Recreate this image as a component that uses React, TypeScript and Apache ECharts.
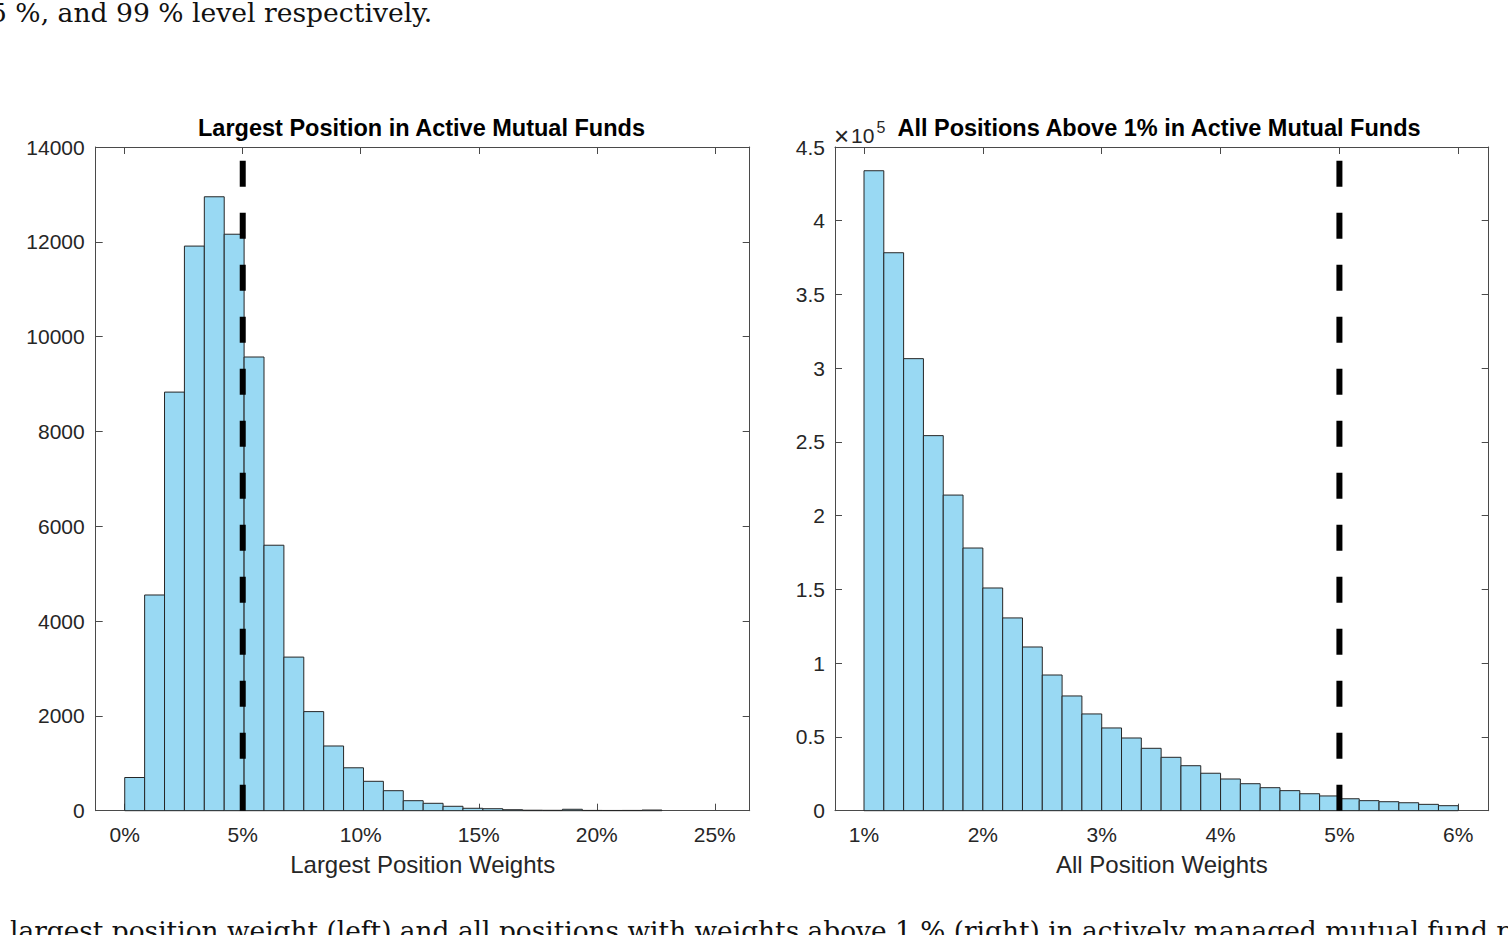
import React, { useEffect, useRef } from "react";
import * as echarts from "echarts";

// ---- data ----
const LEFT_TITLE = "Largest Position in Active Mutual Funds";
const RIGHT_TITLE = "All Positions Above 1% in Active Mutual Funds";
const LEFT_XNAME = "Largest Position Weights";
const RIGHT_XNAME = "All Position Weights";

const LEFT_BIN_START = 0; // %
const LEFT_BIN_WIDTH = 0.843; // %
const LEFT_COUNTS = [
  700, 4550, 8830, 11910, 12950, 12160, 9570, 5600, 3240, 2090, 1365, 905, 620,
  422, 211, 156, 93, 51, 42, 21, 10, 8, 30, 6, 5, 6, 14,
];
const LEFT_X_TICKS = [0, 5, 10, 15, 20, 25];
const LEFT_X_MIN = -1.23;
const LEFT_X_MAX = 26.48;
const LEFT_Y_MAX = 14000;
const LEFT_Y_STEP = 2000;
const LEFT_CUTOFF = 5;

const RIGHT_BIN_START = 1; // %
const RIGHT_BIN_WIDTH = 1 / 6; // %
const RIGHT_COUNTS = [
  433900, 378300, 306500, 254300, 214000, 178100, 151000, 130700, 111000, 92000,
  77800, 65600, 56100, 49300, 42300, 36200, 30500, 25400, 21500, 18300, 15600,
  13600, 11500, 10000, 8100, 6800, 6100, 5400, 4300, 3400,
];
const RIGHT_X_TICKS = [1, 2, 3, 4, 5, 6];
const RIGHT_X_MIN = 0.756;
const RIGHT_X_MAX = 6.256;
const RIGHT_Y_MAX = 450000;
const RIGHT_Y_STEP = 50000;
const RIGHT_CUTOFF = 5;

const TOP_TEXT = "5 %, and 99 % level respectively.";
const BOTTOM_TEXT =
  "largest position weight (left) and all positions with weights above 1 % (right) in actively managed mutual fund portfolios.";

// ---- styles ----
const SANS = "'Liberation Sans', Arial, Helvetica, sans-serif";
const SERIF = "'DejaVu Serif', 'Liberation Serif', serif";
const AXIS_COLOR = "#4a4a4a";
const LABEL_COLOR = "#262626";
const BAR_FILL = "#99d9f3";
const BAR_EDGE = "#262626";

function bins(start: number, width: number, counts: number[]) {
  return counts.map((c, i) => [start + i * width, start + (i + 1) * width, c]);
}

function renderBar(_params: any, api: any) {
  const x0 = api.value(0);
  const x1 = api.value(1);
  const y = api.value(2);
  const p0 = api.coord([x0, 0]);
  const p1 = api.coord([x1, y]);
  return {
    type: "rect",
    shape: { x: p0[0], y: p1[1], width: p1[0] - p0[0], height: p0[1] - p1[1] },
    style: { fill: BAR_FILL, stroke: BAR_EDGE, lineWidth: 1 },
  };
}

export default function App() {
  const ref = useRef<HTMLDivElement>(null);
  useEffect(() => {
    if (!ref.current) return;
    const chart = echarts.init(ref.current, null, { renderer: "svg" });

    const lineStyle = { color: AXIS_COLOR, width: 1 };
    const tickCommon = { inside: true, length: 7, lineStyle };

    const xAxisPair = (
      gridIndex: number,
      min: number,
      max: number,
      ticks: number[],
      name: string
    ) => [
      {
        type: "value",
        gridIndex,
        min,
        max,
        position: "bottom",
        axisLine: { show: true, onZero: false, lineStyle },
        axisTick: { ...tickCommon, customValues: ticks },
        axisLabel: {
          customValues: ticks,
          formatter: (v: number) => `${v}%`,
          color: LABEL_COLOR,
          fontSize: 21,
          fontFamily: SANS,
          margin: 13,
        },
        splitLine: { show: false },
        name,
        nameLocation: "middle",
        nameGap: 42,
        nameTextStyle: { color: LABEL_COLOR, fontSize: 24, fontFamily: SANS },
      },
      {
        type: "value",
        gridIndex,
        min,
        max,
        position: "top",
        axisLine: { show: true, onZero: false, lineStyle },
        axisTick: { ...tickCommon, customValues: ticks },
        axisLabel: { show: false },
        splitLine: { show: false },
      },
    ];

    const yAxisPair = (
      gridIndex: number,
      max: number,
      step: number,
      fmt: (v: number) => string,
      margin: number
    ) => [
      {
        type: "value",
        gridIndex,
        min: 0,
        max,
        interval: step,
        position: "left",
        axisLine: { show: true, onZero: false, lineStyle },
        axisTick: { ...tickCommon },
        axisLabel: {
          formatter: fmt,
          color: LABEL_COLOR,
          fontSize: 21,
          fontFamily: SANS,
          margin,
        },
        splitLine: { show: false },
      },
      {
        type: "value",
        gridIndex,
        min: 0,
        max,
        interval: step,
        position: "right",
        axisLine: { show: true, onZero: false, lineStyle },
        axisTick: { ...tickCommon },
        axisLabel: { show: false },
        splitLine: { show: false },
      },
    ];

    const dashStyle = { color: "#000", width: 6, type: [26, 26] as any };

    chart.setOption({
      animation: false,
      backgroundColor: "#fff",
      grid: [
        { left: 95.7, top: 147, right: 1508 - 749.7, bottom: 935 - 810.7 },
        { left: 835, top: 147, right: 1508 - 1488.7, bottom: 935 - 810.7 },
      ],
      xAxis: [
        ...xAxisPair(0, LEFT_X_MIN, LEFT_X_MAX, LEFT_X_TICKS, LEFT_XNAME),
        ...xAxisPair(1, RIGHT_X_MIN, RIGHT_X_MAX, RIGHT_X_TICKS, RIGHT_XNAME),
      ],
      yAxis: [
        ...yAxisPair(0, LEFT_Y_MAX, LEFT_Y_STEP, (v: number) => `${v}`, 11),
        ...yAxisPair(
          1,
          RIGHT_Y_MAX,
          RIGHT_Y_STEP,
          (v: number) => `${+(v / 1e5).toFixed(1)}`,
          10
        ),
      ],
      series: [
        {
          type: "custom",
          xAxisIndex: 0,
          yAxisIndex: 0,
          renderItem: renderBar,
          encode: { x: [0, 1], y: 2 },
          data: bins(LEFT_BIN_START, LEFT_BIN_WIDTH, LEFT_COUNTS),
          z: 2,
        },
        {
          type: "line",
          xAxisIndex: 0,
          yAxisIndex: 0,
          data: [
            [LEFT_CUTOFF, 0],
            [LEFT_CUTOFF, LEFT_Y_MAX],
          ],
          symbol: "none",
          lineStyle: dashStyle,
          z: 5,
        },
        {
          type: "custom",
          xAxisIndex: 2,
          yAxisIndex: 2,
          renderItem: renderBar,
          encode: { x: [0, 1], y: 2 },
          data: bins(RIGHT_BIN_START, RIGHT_BIN_WIDTH, RIGHT_COUNTS),
          z: 2,
        },
        {
          type: "line",
          xAxisIndex: 2,
          yAxisIndex: 2,
          data: [
            [RIGHT_CUTOFF, 0],
            [RIGHT_CUTOFF, RIGHT_Y_MAX],
          ],
          symbol: "none",
          lineStyle: dashStyle,
          z: 5,
        },
      ],
      graphic: [
        {
          type: "text",
          x: 421.5,
          y: 128,
          style: {
            text: LEFT_TITLE,
            font: `bold 23.5px ${SANS}`,
            fill: "#000",
            align: "center",
            verticalAlign: "middle",
          },
        },
        {
          type: "text",
          x: 1159,
          y: 128,
          style: {
            text: RIGHT_TITLE,
            font: `bold 23.5px ${SANS}`,
            fill: "#000",
            align: "center",
            verticalAlign: "middle",
          },
        },
        {
          type: "text",
          x: 834,
          y: 136,
          style: {
            text: "×",
            font: `26px ${SANS}`,
            fill: LABEL_COLOR,
            verticalAlign: "middle",
          },
        },
        {
          type: "text",
          x: 851,
          y: 135,
          style: {
            text: "10",
            font: `21px ${SANS}`,
            fill: LABEL_COLOR,
            verticalAlign: "middle",
          },
        },
        {
          type: "text",
          x: 876.5,
          y: 119,
          style: {
            text: "5",
            font: `16px ${SANS}`,
            fill: LABEL_COLOR,
            verticalAlign: "top",
          },
        },
        {
          type: "text",
          x: -10,
          y: -1,
          style: { text: TOP_TEXT, font: `26.6px ${SERIF}`, fill: "#111" },
        },
        {
          type: "text",
          x: 10,
          y: 917,
          style: { text: BOTTOM_TEXT, font: `26.4px ${SERIF}`, fill: "#111" },
        },
      ],
    });
    return () => chart.dispose();
  }, []);
  return (
    <div
      ref={ref}
      style={{ position: "absolute", left: 0, top: 0, width: 1508, height: 935, background: "#fff" }}
    />
  );
}
